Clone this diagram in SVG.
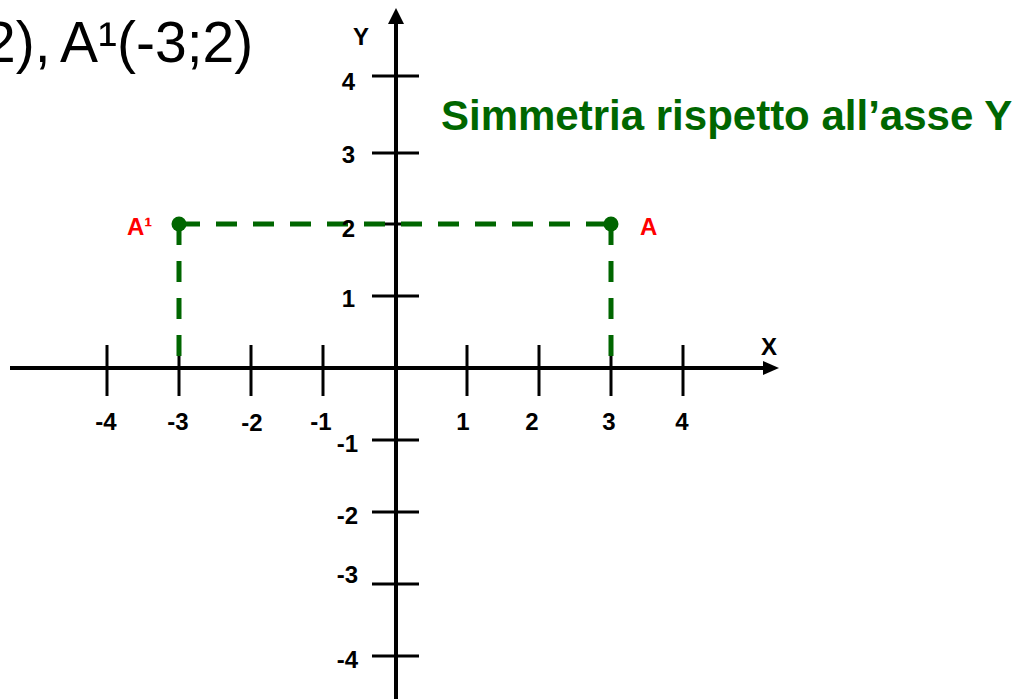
<svg xmlns="http://www.w3.org/2000/svg" width="1032" height="699" viewBox="0 0 1032 699">
<style>
.ax{stroke:#000;stroke-width:4;fill:none}
.tk{stroke:#000;stroke-width:3}
.lb{font-family:"Liberation Sans",Arial,sans-serif;font-weight:bold;font-size:24px;fill:#000}
.lx{text-anchor:middle}
.ly{text-anchor:end}
.dash{stroke:#006600;stroke-width:5;stroke-dasharray:21 16;fill:none}
.pt{fill:#006600}
.red{font-family:"Liberation Sans",Arial,sans-serif;font-weight:bold;font-size:24px;fill:#ff0000}
</style>
<rect width="1032" height="699" fill="#fff"/>
<text y="62" font-family="Liberation Sans, Arial, sans-serif" font-size="57" fill="#000"><tspan x="-16">2),</tspan><tspan x="60">A¹(-3;2)</tspan></text>
<text x="441" y="130" font-family="Liberation Sans, Arial, sans-serif" font-weight="bold" font-size="42" fill="#006600">Simmetria rispetto all’asse Y</text>
<g id="axes">
<line class="ax" x1="10" y1="368" x2="764" y2="368"/>
<polygon points="779,368 763,361 763,375" fill="#000"/>
<line class="ax" x1="396" y1="699" x2="396" y2="22"/>
<polygon points="396,8 388,24 404,24" fill="#000"/>
<text class="lb" x="769" y="355" text-anchor="middle" font-size="25">X</text>
<text class="lb" x="361" y="45" text-anchor="middle">Y</text>
</g>
<g id="xticks">
<line class="tk" x1="107" y1="345" x2="107" y2="396"/>
<line class="tk" x1="179" y1="345" x2="179" y2="396"/>
<line class="tk" x1="251" y1="345" x2="251" y2="396"/>
<line class="tk" x1="323" y1="345" x2="323" y2="396"/>
<line class="tk" x1="467" y1="345" x2="467" y2="396"/>
<line class="tk" x1="539" y1="345" x2="539" y2="396"/>
<line class="tk" x1="611" y1="345" x2="611" y2="396"/>
<line class="tk" x1="683" y1="345" x2="683" y2="396"/>
<text class="lb lx" x="106" y="430">-4</text>
<text class="lb lx" x="178" y="430">-3</text>
<text class="lb lx" x="252" y="431">-2</text>
<text class="lb lx" x="321" y="430">-1</text>
<text class="lb lx" x="463" y="430">1</text>
<text class="lb lx" x="532" y="430">2</text>
<text class="lb lx" x="609" y="430">3</text>
<text class="lb lx" x="682" y="430">4</text>
</g>
<g id="yticks">
<line class="tk" x1="372" y1="76" x2="419" y2="76"/>
<line class="tk" x1="372" y1="153" x2="419" y2="153"/>
<line class="tk" x1="372" y1="224" x2="419" y2="224"/>
<line class="tk" x1="372" y1="296" x2="419" y2="296"/>
<line class="tk" x1="372" y1="440" x2="419" y2="440"/>
<line class="tk" x1="372" y1="512" x2="419" y2="512"/>
<line class="tk" x1="372" y1="584" x2="419" y2="584"/>
<line class="tk" x1="372" y1="656" x2="419" y2="656"/>
<text class="lb ly" x="355" y="90">4</text>
<text class="lb ly" x="355" y="163">3</text>
<text class="lb ly" x="355" y="307">1</text>
<text class="lb ly" x="358" y="452">-1</text>
<text class="lb ly" x="358" y="524">-2</text>
<text class="lb ly" x="358" y="583">-3</text>
<text class="lb ly" x="358" y="668">-4</text>
</g>
<g id="connectors">
<line class="dash" x1="179" y1="224" x2="611" y2="224"/>
<line class="dash" x1="179" y1="224" x2="179" y2="356"/>
<line class="dash" x1="611" y1="224" x2="611" y2="356"/>
</g>
<text class="lb ly" x="355" y="237">2</text>
<g id="pointA1">
<circle class="pt" cx="179" cy="224" r="7.5"/>
<text class="red" x="127" y="235">A¹</text>
</g>
<g id="pointA">
<circle class="pt" cx="611" cy="224" r="7.5"/>
<text class="red" x="640" y="235">A</text>
</g>
</svg>
